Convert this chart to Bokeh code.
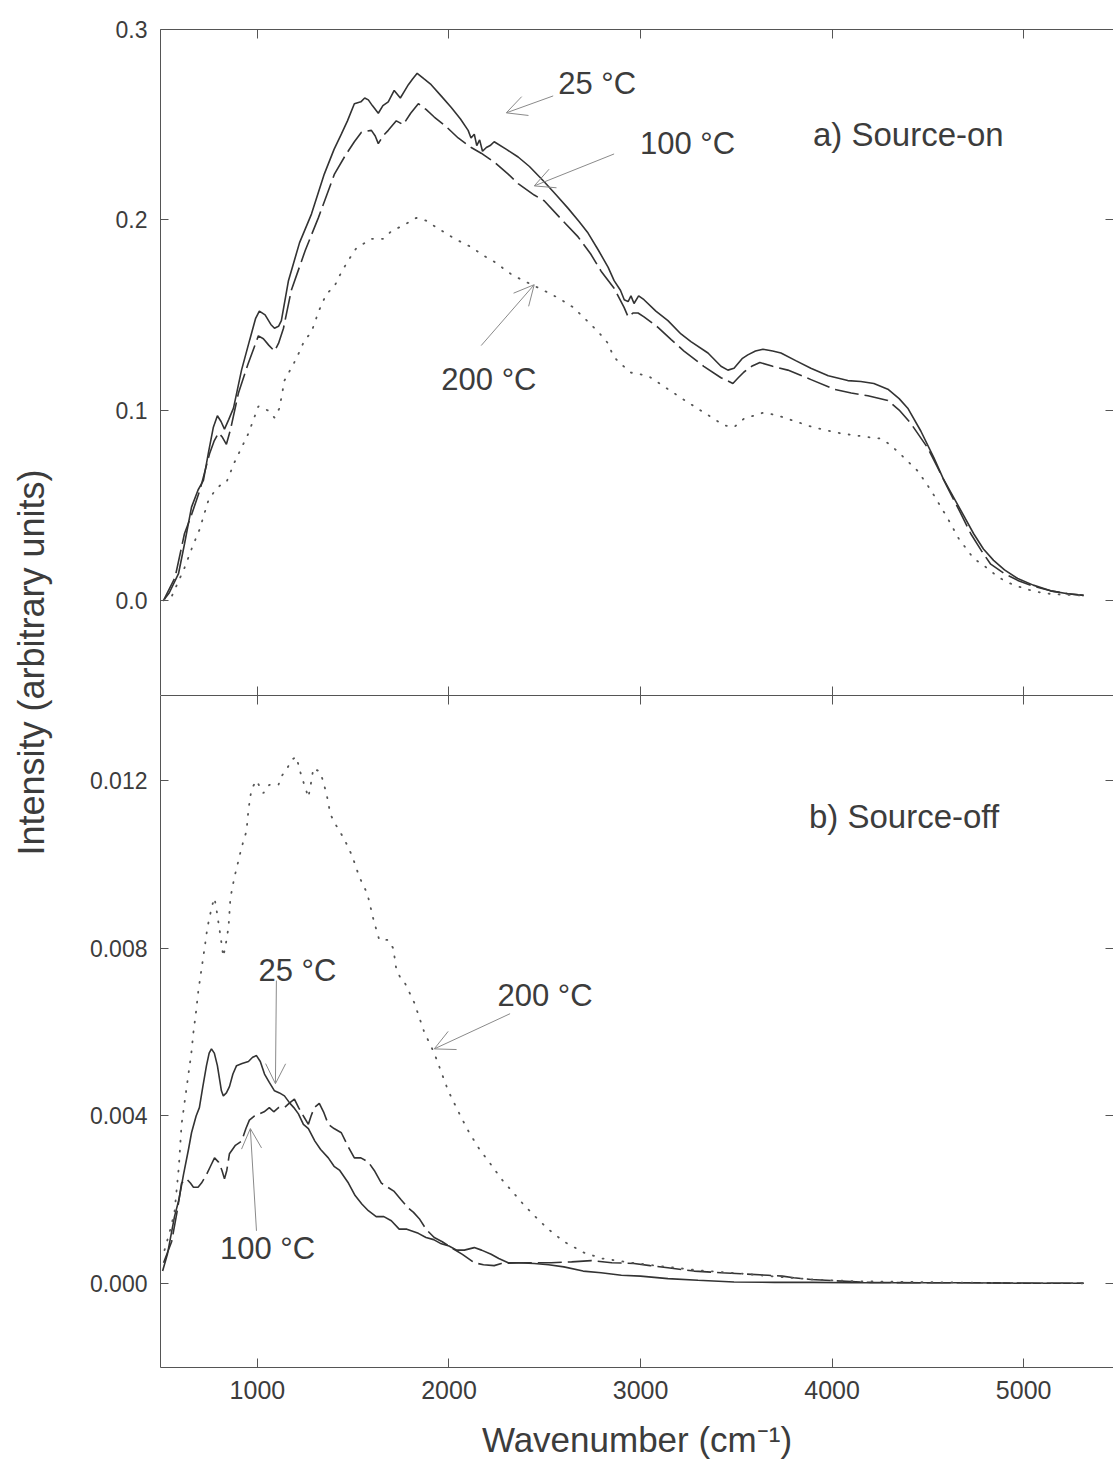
from math import pi

from bokeh.embed import file_html
from bokeh.layouts import column, row
from bokeh.models import (Arrow, FixedTicker, Label, LinearAxis, OpenHead,
                          PrintfTickFormatter, Range1d)
from bokeh.plotting import figure
from bokeh.resources import INLINE

# ---------------- data: wavenumber (cm^-1) and intensity ----------------
# a) source-on spectra
on_25_x = [510, 540, 588, 620, 656, 690, 718, 745, 770, 791, 810, 828, 850, 875, 917, 960, 990,
           1010, 1040, 1070, 1089, 1110, 1125, 1162, 1220, 1282, 1349, 1400, 1438, 1470, 1506,
           1540, 1560, 1579, 1600, 1631, 1655, 1683, 1714, 1746, 1770, 1788, 1810, 1834, 1870,
           1907, 1960, 2012, 2060, 2100, 2115, 2132, 2145, 2160, 2175, 2195, 2215, 2236, 2300,
           2361, 2420, 2497, 2560, 2622, 2680, 2726, 2780, 2831, 2862, 2895, 2915, 2935, 2950,
           2966, 2990, 3018, 3080, 3143, 3211, 3263, 3352, 3420, 3456, 3488, 3530, 3560, 3600,
           3639, 3690, 3733, 3810, 3889, 3980, 4082, 4150, 4218, 4291, 4350, 4395, 4463, 4531,
           4580, 4635, 4690, 4739, 4790, 4843, 4900, 4969, 5050, 5141, 5230, 5313]
on_25_y = [0.000, 0.004, 0.014, 0.030, 0.049, 0.058, 0.063, 0.078, 0.091, 0.097, 0.094, 0.090,
           0.095, 0.101, 0.121, 0.137, 0.148, 0.152, 0.150, 0.145, 0.143, 0.144, 0.147, 0.168,
           0.188, 0.203, 0.224, 0.237, 0.245, 0.252, 0.261, 0.262, 0.264, 0.263, 0.260, 0.256,
           0.260, 0.262, 0.268, 0.264, 0.268, 0.271, 0.274, 0.277, 0.274, 0.271, 0.265, 0.259,
           0.253, 0.247, 0.243, 0.245, 0.239, 0.242, 0.236, 0.238, 0.239, 0.241, 0.237, 0.233,
           0.228, 0.220, 0.213, 0.206, 0.199, 0.193, 0.184, 0.175, 0.168, 0.163, 0.158, 0.157,
           0.160, 0.156, 0.160, 0.158, 0.152, 0.147, 0.140, 0.136, 0.130, 0.123, 0.121, 0.122,
           0.127, 0.129, 0.131, 0.132, 0.131, 0.130, 0.126, 0.122, 0.118, 0.1155, 0.115, 0.114,
           0.111, 0.106, 0.101, 0.089, 0.075, 0.064, 0.054, 0.044, 0.035, 0.027, 0.021, 0.016,
           0.0115, 0.008, 0.005, 0.0035, 0.0026]

on_100_x = [510, 525, 570, 619, 656, 700, 750, 775, 797, 815, 838, 860, 901, 950, 1005, 1031,
            1060, 1089, 1110, 1136, 1177, 1250, 1318, 1402, 1460, 1506, 1543, 1595, 1615, 1631,
            1655, 1683, 1725, 1761, 1800, 1840, 1880, 1923, 1985, 2048, 2116, 2168, 2240, 2309,
            2361, 2445, 2497, 2580, 2674, 2740, 2794, 2862, 2914, 2935, 2960, 2987, 3018, 3091,
            3160, 3227, 3330, 3420, 3482, 3510, 3540, 3580, 3623, 3690, 3769, 3890, 4009, 4100,
            4187, 4291, 4350, 4411, 4500, 4550, 4604, 4665, 4724, 4780, 4828, 4900, 4969, 5050,
            5141, 5230, 5313]
on_100_y = [0.000, 0.003, 0.012, 0.035, 0.045, 0.058, 0.077, 0.084, 0.088, 0.086, 0.082, 0.090,
            0.109, 0.124, 0.139, 0.1375, 0.134, 0.131, 0.135, 0.143, 0.163, 0.184, 0.201, 0.224,
            0.234, 0.241, 0.246, 0.247, 0.244, 0.240, 0.244, 0.247, 0.252, 0.250, 0.256, 0.261,
            0.258, 0.254, 0.249, 0.243, 0.238, 0.235, 0.230, 0.224, 0.219, 0.213, 0.210, 0.201,
            0.191, 0.182, 0.173, 0.164, 0.154, 0.149, 0.151, 0.151, 0.149, 0.1435, 0.137, 0.131,
            0.123, 0.117, 0.114, 0.117, 0.120, 0.123, 0.125, 0.123, 0.121, 0.116, 0.111, 0.109,
            0.1075, 0.105, 0.100, 0.093, 0.080, 0.070, 0.059, 0.047, 0.035, 0.026, 0.019, 0.014,
            0.0105, 0.0075, 0.005, 0.0035, 0.0026]

on_200_x = [510, 552, 619, 660, 697, 744, 780, 812, 838, 880, 953, 1005, 1057, 1089, 1115, 1141,
            1203, 1245, 1282, 1320, 1360, 1402, 1428, 1470, 1516, 1595, 1657, 1699, 1760, 1829,
            1881, 1950, 2030, 2110, 2184, 2236, 2330, 2430, 2533, 2585, 2648, 2720, 2780, 2831,
            2857, 2888, 2950, 3039, 3143, 3248, 3331, 3436, 3488, 3540, 3644, 3720, 3795, 3900,
            4046, 4202, 4254, 4300, 4348, 4447, 4515, 4604, 4661, 4739, 4802, 4870, 4948, 5030,
            5104, 5200, 5313]
on_200_y = [0.000, 0.002, 0.017, 0.028, 0.037, 0.0525, 0.058, 0.061, 0.062, 0.0725, 0.0877,
            0.102, 0.0997, 0.096, 0.101, 0.1155, 0.127, 0.1365, 0.141, 0.152, 0.161, 0.165,
            0.1705, 0.178, 0.185, 0.190, 0.190, 0.194, 0.197, 0.201, 0.1995, 0.195, 0.190, 0.186,
            0.181, 0.178, 0.171, 0.166, 0.161, 0.158, 0.154, 0.147, 0.141, 0.135, 0.1285, 0.125,
            0.1197, 0.118, 0.111, 0.104, 0.0987, 0.092, 0.091, 0.0955, 0.0987, 0.097, 0.0945,
            0.091, 0.0877, 0.0856, 0.085, 0.082, 0.0777, 0.068, 0.058, 0.043, 0.0325, 0.022,
            0.0175, 0.012, 0.008, 0.0055, 0.0037, 0.003, 0.0026]

# b) source-off spectra
off_25_x = [505, 530, 567, 590, 614, 640, 656, 680, 697, 715, 734, 748, 760, 775, 791, 805, 812,
            822, 838, 854, 872, 891, 920, 953, 975, 995, 1015, 1037, 1062, 1089, 1115, 1141,
            1170, 1190, 1214, 1240, 1266, 1300, 1330, 1370, 1400, 1430, 1475, 1510, 1545, 1579,
            1620, 1660, 1699, 1740, 1780, 1840, 1880, 1920, 1960, 2000, 2040, 2080, 2132, 2170,
            2220, 2260, 2309, 2360, 2445, 2520, 2600, 2700, 2794, 2900, 3000, 3143, 3300, 3488,
            3700, 3900, 4100, 4400, 4700, 5000, 5313]
off_25_y = [0.0003, 0.0007, 0.0016, 0.0020, 0.0026, 0.0032, 0.0036, 0.0040, 0.0042, 0.0047,
            0.0052, 0.0055, 0.0056, 0.0055, 0.0052, 0.0048, 0.0046, 0.00448, 0.00455, 0.0047,
            0.0050, 0.0052, 0.00525, 0.0053, 0.0054, 0.00544, 0.0053, 0.0050, 0.0048, 0.0046,
            0.00455, 0.00448, 0.0043, 0.0042, 0.00405, 0.0038, 0.0037, 0.0034, 0.0032, 0.0030,
            0.0028, 0.0027, 0.0024, 0.0021, 0.0019, 0.00174, 0.0016, 0.0016, 0.0015, 0.0013,
            0.0013, 0.0012, 0.0011, 0.00105, 0.00095, 0.0009, 0.0008, 0.0008, 0.00086, 0.0008,
            0.0007, 0.0006, 0.0005, 0.0005, 0.00048, 0.00045, 0.0004, 0.0003, 0.00026, 0.0002,
            0.00018, 0.00012, 0.00008, 0.00004, 0.00003, 0.00003, 0.00002, 0.00002, 0.00002,
            0.00001, 0.00001]

off_100_x = [510, 552, 580, 604, 630, 650, 666, 690, 708, 734, 755, 776, 797, 815, 828, 840,
             854, 885, 917, 940, 958, 985, 1010, 1035, 1062, 1085, 1110, 1141, 1165, 1193, 1215,
             1240, 1266, 1280, 1297, 1323, 1345, 1370, 1400, 1438, 1470, 1506, 1540, 1579, 1610,
             1647, 1680, 1714, 1750, 1788, 1815, 1845, 1880, 1923, 1965, 2012, 2070, 2132, 2180,
             2236, 2273, 2400, 2533, 2640, 2742, 2850, 2966, 3050, 3143, 3280, 3420, 3550, 3665,
             3740, 3800, 3889, 4009, 4200, 4500, 4800, 5100, 5313]
off_100_y = [0.0005, 0.0010, 0.0017, 0.0024, 0.0025, 0.0024, 0.0023, 0.0023, 0.0024, 0.0026,
             0.0028, 0.0030, 0.0029, 0.0027, 0.0025, 0.0027, 0.0031, 0.0033, 0.0034, 0.0037,
             0.0039, 0.0040, 0.00405, 0.0041, 0.0042, 0.0041, 0.0042, 0.0042, 0.0043, 0.0044,
             0.0042, 0.0040, 0.0038, 0.0040, 0.0042, 0.0043, 0.0041, 0.0038, 0.0037, 0.0036,
             0.0033, 0.0030, 0.0030, 0.0029, 0.0027, 0.0024, 0.0023, 0.0022, 0.0020, 0.0018,
             0.0017, 0.00155, 0.0013, 0.0011, 0.0010, 0.00086, 0.0007, 0.0005, 0.00045, 0.00043,
             0.00048, 0.0005, 0.0005, 0.00052, 0.00055, 0.0005, 0.00048, 0.00043, 0.00038,
             0.0003, 0.00026, 0.00023, 0.0002, 0.00018, 0.00014, 0.0001, 0.00007, 0.00003,
             0.00002, 0.00002, 0.00001, 0.00001]

off_200_x = [515, 540, 567, 590, 604, 622, 640, 655, 666, 680, 692, 708, 724, 739, 750, 762, 776,
             787, 797, 810, 822, 835, 849, 859, 880, 891, 917, 943, 953, 969, 995, 1031, 1062,
             1110, 1125, 1156, 1180, 1203, 1230, 1245, 1266, 1282, 1292, 1329, 1360, 1381, 1402,
             1454, 1495, 1532, 1574, 1605, 1636, 1683, 1709, 1725, 1746, 1767, 1819, 1871, 1923,
             1996, 2060, 2106, 2160, 2210, 2273, 2330, 2387, 2450, 2518, 2601, 2705, 2800, 2950,
             3100, 3300, 3500, 3700, 3900, 4100, 4400, 4800, 5313]
off_200_y = [0.0008, 0.0012, 0.0017, 0.0028, 0.0038, 0.0044, 0.0050, 0.0055, 0.0060, 0.0065,
             0.0070, 0.0075, 0.0080, 0.0085, 0.00873, 0.0090, 0.0092, 0.0089, 0.0086, 0.0082,
             0.0078, 0.0081, 0.0085, 0.0092, 0.0097, 0.0099, 0.0104, 0.0108, 0.0113, 0.0118,
             0.0120, 0.0117, 0.0119, 0.0119, 0.0121, 0.0123, 0.0125, 0.01257, 0.0121, 0.0119,
             0.0116, 0.0120, 0.0123, 0.0122, 0.0117, 0.0112, 0.0110, 0.0106, 0.0102, 0.0097,
             0.0093, 0.0087, 0.0082, 0.0082, 0.0080, 0.0075, 0.0073, 0.0072, 0.0067, 0.0060,
             0.0055, 0.0046, 0.0040, 0.0036, 0.0032, 0.0029, 0.0025, 0.0022, 0.0019, 0.0016,
             0.0013, 0.0010, 0.00074, 0.0006, 0.0005, 0.00042, 0.00032, 0.00025, 0.00017,
             0.0001, 0.00006, 0.00004, 0.00002, 0.00001]

x_ticks = [1000, 2000, 3000, 4000, 5000]
top_y_ticks = [0.0, 0.1, 0.2, 0.3]
bottom_y_ticks = [0.000, 0.004, 0.008, 0.012]

# ---------------- styling ----------------
FONT = "Liberation Sans"
INK = "#333333"
TEXT = "#3c3c3c"
AXIS = "#555555"
ARROW = "#8a8a8a"

X_RANGE = Range1d(494, 5469)
LEFT_PAD = 100        # space for the y tick labels inside each panel
YLAB_W = 60           # column that carries the shared y axis title
PANEL_W = 1113 - YLAB_W


def tick_only_axis(ticks, tick_in):
    """An axis that draws only inward ticks and its line; labels are switched off."""
    ax = LinearAxis(ticker=FixedTicker(ticks=ticks))
    ax.major_tick_in = tick_in
    ax.major_tick_out = 0
    ax.minor_tick_line_color = None
    ax.major_label_text_font_size = "0px"
    ax.major_label_text_color = None
    ax.major_label_standoff = 0
    ax.axis_line_color = AXIS
    ax.major_tick_line_color = AXIS
    return ax


def style_left(ax, ticks, fmt):
    ax.ticker = FixedTicker(ticks=ticks)
    ax.formatter = PrintfTickFormatter(format=fmt)
    ax.major_tick_in = 8
    ax.major_tick_out = 0
    ax.minor_tick_line_color = None
    ax.axis_line_color = AXIS
    ax.major_tick_line_color = AXIS
    ax.major_label_text_font = FONT
    ax.major_label_text_font_size = "23px"
    ax.major_label_text_color = TEXT
    ax.major_label_standoff = 13


def add_right_ticks(p, ticks):
    ax = tick_only_axis(ticks, 8)
    ax.axis_line_color = None
    p.add_layout(ax, "right")


def text(p, x, y, s, size="31px", align="left"):
    p.add_layout(Label(x=x, y=y, text=s, text_font=FONT, text_font_size=size,
                       text_color=TEXT, text_align=align, text_baseline="middle"))


def arrow(p, x0, y0, x1, y1):
    p.add_layout(Arrow(x_start=x0, y_start=y0, x_end=x1, y_end=y1,
                       line_color=ARROW, line_width=1,
                       end=OpenHead(size=20, line_color=ARROW, line_width=1)))


SOLID = dict(line_color=INK, line_width=1.6)
DASHED = dict(line_color=INK, line_width=1.6, line_dash="24 6")
DOTTED = dict(line_color="#555555", line_width=1.8, line_dash="1 9", line_cap="round")

# ---------------- a) source-on ----------------
top = figure(width=PANEL_W, height=695, x_range=X_RANGE, y_range=Range1d(-0.05, 0.3),
             output_backend="svg", toolbar_location=None,
             min_border_left=LEFT_PAD, min_border_right=0, min_border_top=29,
             min_border_bottom=0, outline_line_color=None)
top.grid.visible = False
top.xaxis.visible = False
style_left(top.yaxis[0], top_y_ticks, "%.1f")
top.add_layout(tick_only_axis(x_ticks, 9), "above")
top.add_layout(tick_only_axis(x_ticks, 9), "below")
add_right_ticks(top, top_y_ticks)

top.line(on_25_x, on_25_y, **SOLID)
top.line(on_100_x, on_100_y, **DASHED)
top.line(on_200_x, on_200_y, **DOTTED)

text(top, 2570, 0.2714, "25 °C")
arrow(top, 2544, 0.2651, 2299, 0.2562)
text(top, 2997, 0.2399, "100 °C")
arrow(top, 2862, 0.2346, 2445, 0.2178)
text(top, 1960, 0.1160, "200 °C")
arrow(top, 2168, 0.1339, 2445, 0.1659)
text(top, 3900, 0.2450, "a) Source-on", size="33px")

# ---------------- b) source-off ----------------
bottom = figure(width=PANEL_W, height=777, x_range=X_RANGE, y_range=Range1d(-0.002, 0.01403),
                output_backend="svg", toolbar_location=None,
                min_border_left=LEFT_PAD, min_border_right=0, min_border_top=0,
                min_border_bottom=105, outline_line_color=None)
bottom.grid.visible = False
xa = bottom.xaxis[0]
xa.ticker = FixedTicker(ticks=x_ticks)
xa.major_tick_in = 9
xa.major_tick_out = 0
xa.minor_tick_line_color = None
xa.axis_line_color = AXIS
xa.major_tick_line_color = AXIS
xa.major_label_text_font = FONT
xa.major_label_text_font_size = "25px"
xa.major_label_text_color = TEXT
xa.major_label_standoff = 13
xa.axis_label = "Wavenumber (cm⁻¹)"
xa.axis_label_text_font = FONT
xa.axis_label_text_font_size = "35px"
xa.axis_label_text_font_style = "normal"
xa.axis_label_text_color = TEXT
xa.axis_label_standoff = 18
style_left(bottom.yaxis[0], bottom_y_ticks, "%.3f")
bottom.add_layout(tick_only_axis(x_ticks, 9), "above")
add_right_ticks(bottom, bottom_y_ticks)

bottom.line(off_25_x, off_25_y, **SOLID)
bottom.line(off_100_x, off_100_y, **DASHED)
bottom.line(off_200_x, off_200_y, **DOTTED)

text(bottom, 1209, 0.00747, "25 °C", align="center")
arrow(bottom, 1099, 0.00723, 1094, 0.00477)
text(bottom, 1053, 0.00083, "100 °C", align="center")
arrow(bottom, 995, 0.00126, 963, 0.00370)
text(bottom, 2253, 0.00688, "200 °C")
arrow(bottom, 2319, 0.00644, 1923, 0.00560)
text(bottom, 3879, 0.01114, "b) Source-off", size="33px")

# ---------------- shared y axis title ----------------
ylab = figure(width=YLAB_W, height=1472, x_range=Range1d(0, YLAB_W), y_range=Range1d(1472, 0),
              output_backend="svg", toolbar_location=None, min_border=0,
              outline_line_color=None)
ylab.axis.visible = False
ylab.grid.visible = False
ylab.add_layout(Label(x=31, y=662, text="Intensity (arbitrary units)", angle=pi / 2,
                      text_font=FONT, text_font_size="36px", text_color=TEXT,
                      text_align="center", text_baseline="middle"))

layout = row(ylab, column(top, bottom, spacing=0), spacing=0)

with open("out.html", "w") as f:
    f.write(file_html(layout, INLINE))
